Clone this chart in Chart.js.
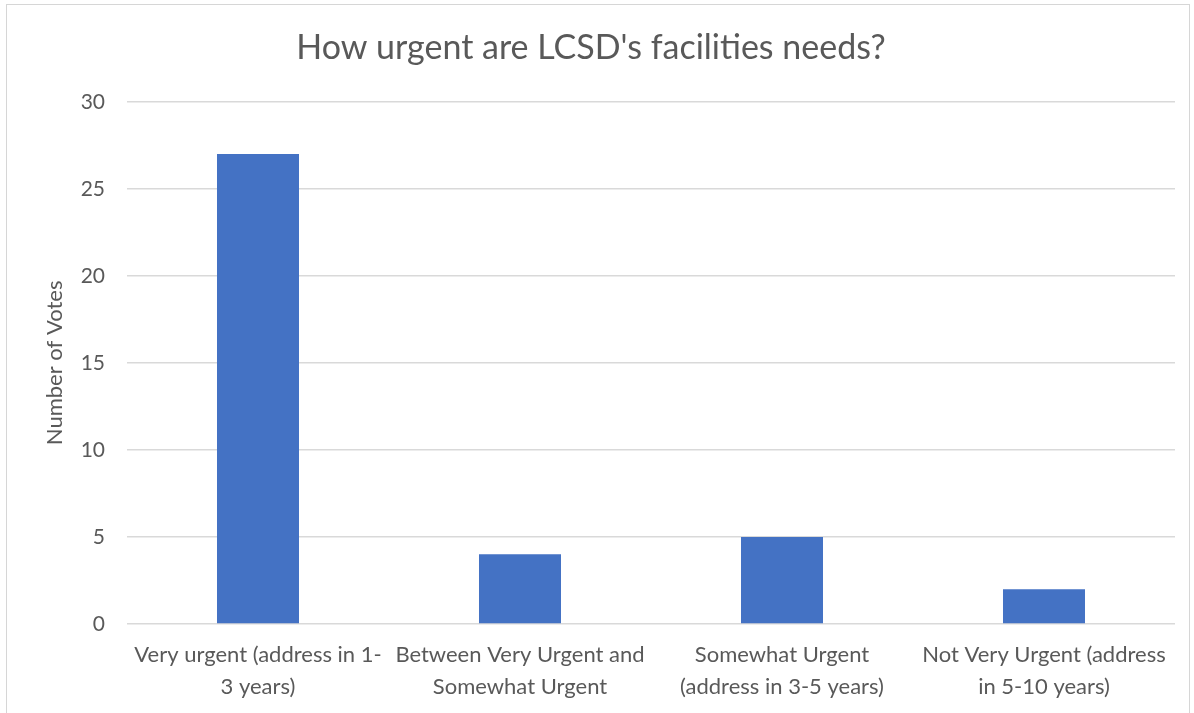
<!DOCTYPE html>
<html>
<head>
<meta charset="utf-8">
<script src="https://cdn.jsdelivr.net/npm/chart.js@4"></script>
<style>
    html, body { margin: 0; padding: 0; background: #fff; overflow: hidden; }
    #frame {
        position: absolute;
        left: 6px;
        top: 4px;
        width: 1184px;
        height: 720px;
        border: 1.5px solid #d6d6d6;
        box-sizing: border-box;
    }
    #chartBox { position: absolute; left: 0; top: 0; width: 1181px; height: 708px; }
</style>
</head>
<body>
<div id="frame">
    <div id="chartBox"><canvas id="urgencyChart"></canvas></div>
</div>
<script>
    // Survey results
    const categories = [
        ['Very urgent (address in 1-', '3 years)'],
        ['Between Very Urgent and', 'Somewhat Urgent'],
        ['Somewhat Urgent', '(address in 3-5 years)'],
        ['Not Very Urgent (address', 'in 5-10 years)']
    ];
    const votes = [27, 4, 5, 2];
    const yTicks = [0, 5, 10, 15, 20, 25, 30];

    const textColor = '#595959';
    const gridColor = '#d9d9d9';

    document.addEventListener('DOMContentLoaded', function() {
        const ctx = document.getElementById('urgencyChart');
        new Chart(ctx, {
            type: 'bar',
            data: {
                labels: categories,
                datasets: [{
                    label: 'Number of Votes',
                    data: votes,
                    backgroundColor: '#4472c4',
                    barPercentage: 0.313,
                    categoryPercentage: 1.0
                }]
            },
            options: {
                responsive: true,
                maintainAspectRatio: false,
                animation: false,
                layout: {
                    padding: { left: 0, right: 13, top: 0, bottom: 0 }
                },
                plugins: {
                    legend: { display: false },
                    tooltip: { enabled: false },
                    title: {
                        display: true,
                        text: "How urgent are LCSD's facilities needs?",
                        color: textColor,
                        font: { family: 'Lato', size: 34, weight: 'normal' },
                        padding: { top: 23, bottom: 33 }
                    }
                },
                scales: {
                    y: {
                        min: 0,
                        max: 30,
                        afterBuildTicks: function(scale) {
                            scale.ticks = yTicks.map(v => ({ value: v }));
                        },
                        afterFit: function(scale) {
                            scale.width = 120;
                        },
                        border: { display: false },
                        grid: { color: gridColor, lineWidth: 1.5, drawTicks: false },
                        ticks: {
                            color: textColor,
                            padding: 22,
                            font: { family: 'Lato', size: 21 }
                        },
                        title: {
                            display: true,
                            text: 'Number of Votes',
                            color: textColor,
                            font: { family: 'Lato', size: 22 },
                            padding: { top: 35, bottom: 0 }
                        }
                    },
                    x: {
                        afterFit: function(scale) {
                            scale.height = 89;
                        },
                        border: { display: false },
                        grid: { display: false },
                        ticks: {
                            color: textColor,
                            padding: 7,
                            maxRotation: 0,
                            autoSkip: false,
                            font: { family: 'Lato', size: 22, lineHeight: 1.45 }
                        }
                    }
                }
            }
        });
    });
</script>
</body>
</html>
